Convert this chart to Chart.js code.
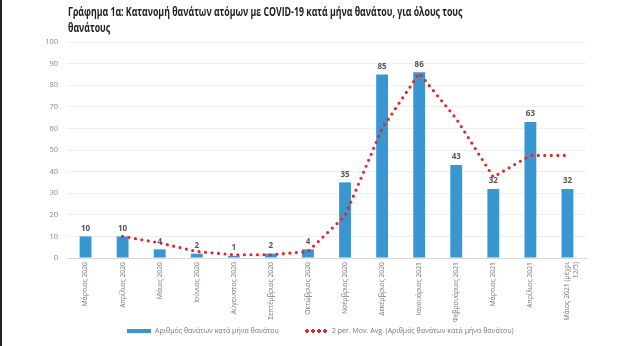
<!DOCTYPE html>
<html>
<head>
<meta charset="utf-8">
<script src="https://cdn.jsdelivr.net/npm/chart.js@4.4.1/dist/chart.umd.min.js"></script>
<style>
  html, body { margin: 0; padding: 0; background: #fff; }
  #wrap { position: relative; width: 639px; height: 346px; border-left: 2px solid #222; box-sizing: border-box; overflow: hidden; }
  #title { position: absolute; left: 66px; top: 4px; font-family: "Open Sans", sans-serif; font-weight: bold; font-size: 12px; line-height: 16px; color: #222; white-space: nowrap; transform: scaleX(0.73); transform-origin: left top; }
  #legend { position: absolute; top: 324px; left: 0; width: 639px; font-family: "Open Sans", sans-serif; font-size: 7px; color: #777; }
  .item { position: absolute; top: 0; white-space: nowrap; line-height: 14px; }
  .swatch { display: inline-block; vertical-align: middle; margin-right: 4px; }
  canvas { position: absolute; left: -2px; top: 0; }
</style>
</head>
<body>
<div id="wrap">
  <canvas id="myChart" width="639" height="346"></canvas>
  <div id="title">Γράφημα 1α: Κατανομή θανάτων ατόμων με COVID-19 κατά μήνα θανάτου, για όλους τους<br>θανάτους</div>
  <div id="legend">
    <div class="item" style="left:125px"><span class="swatch" style="width:24px;height:4px;background:#3a96d0"></span>Αριθμός θανάτων κατά μήνα θανάτου</div>
    <div class="item" style="left:302px"><span class="swatch" style="width:24px;height:4px;background:radial-gradient(circle, #e3262b 1.6px, transparent 1.8px) 0 0/6px 4px repeat-x"></span>2 per. Mov. Avg. (Αριθμός θανάτων κατά μήνα θανάτου)</div>
  </div>
</div>
<script>
const months = [
  'Μάρτιος 2020', 'Απρίλιος 2020', 'Μάιος 2020', 'Ιούνιος 2020', 'Αύγουστος 2020',
  'Σεπτέμβριος 2020', 'Οκτώβριος 2020', 'Νοέμβριος 2020', 'Δεκέμβριος 2020',
  'Ιανουάριος 2021', 'Φεβρουάριος 2021', 'Μάρτιος 2021', 'Απρίλιος 2021',
  ['Μάιος 2021 (μέχρι', '12/5)']
];
const deaths = [10, 10, 4, 2, 1, 2, 4, 35, 85, 86, 43, 32, 63, 32];
const movAvg = [null, 10, 7, 3, 1.5, 1.5, 3, 19.5, 60, 85.5, 64.5, 37.5, 47.5, 47.5];
const yTicks = [0, 10, 20, 30, 40, 50, 60, 70, 80, 90, 100];

// value labels above the bars
const barLabels = {
    id: 'barLabels',
    afterDatasetsDraw(chart) {
        const ctx = chart.ctx;
        const meta = chart.getDatasetMeta(1);
        ctx.save();
        ctx.font = 'bold 8px "Open Sans", sans-serif';
        ctx.fillStyle = '#555';
        ctx.textAlign = 'center';
        ctx.textBaseline = 'bottom';
        meta.data.forEach(function (bar, i) {
            ctx.fillText(deaths[i], bar.x, bar.y - 4);
        });
        ctx.restore();
    }
};

document.addEventListener("DOMContentLoaded", function () {
    const ctx = document.getElementById('myChart').getContext('2d');

    new Chart(ctx, {
        type: 'bar',
        data: {
            labels: months,
            datasets: [{
                type: 'line',
                label: '2 per. Mov. Avg.',
                data: movAvg,
                borderColor: '#e3262b',
                borderWidth: 3.2,
                borderDash: [0, 6.5],
                borderCapStyle: 'round',
                pointRadius: 0,
                tension: 0,
                fill: false,
                order: 0
            }, {
                label: 'Αριθμός θανάτων',
                data: deaths,
                backgroundColor: '#3a96d0',
                barPercentage: 1,
                categoryPercentage: 0.32,
                order: 1
            }]
        },
        options: {
            responsive: false,
            animation: false,
            layout: { padding: { left: 0, right: 53, top: 42, bottom: 20 } },
            plugins: { legend: { display: false }, tooltip: { enabled: false } },
            scales: {
                x: {
                    grid: { display: false, drawTicks: false },
                    border: { color: '#d9d9d9' },
                    ticks: {
                        minRotation: 90, maxRotation: 90, autoSkip: false, padding: 4,
                        color: '#777', font: { family: '"Open Sans", sans-serif', size: 6.8 }
                    },
                    afterFit: function (scale) { scale.height = 68; }
                },
                y: {
                    min: 0, max: 100,
                    afterBuildTicks: function (scale) { scale.ticks = yTicks.map(v => ({ value: v })); },
                    grid: { color: '#eeeeee', drawTicks: false },
                    border: { display: false },
                    ticks: { padding: 9, color: '#888', font: { family: '"Open Sans", sans-serif', size: 7.5 } },
                    afterFit: function (scale) { scale.width = 67; }
                }
            }
        },
        plugins: [barLabels]
    });
});
</script>
</body>
</html>
